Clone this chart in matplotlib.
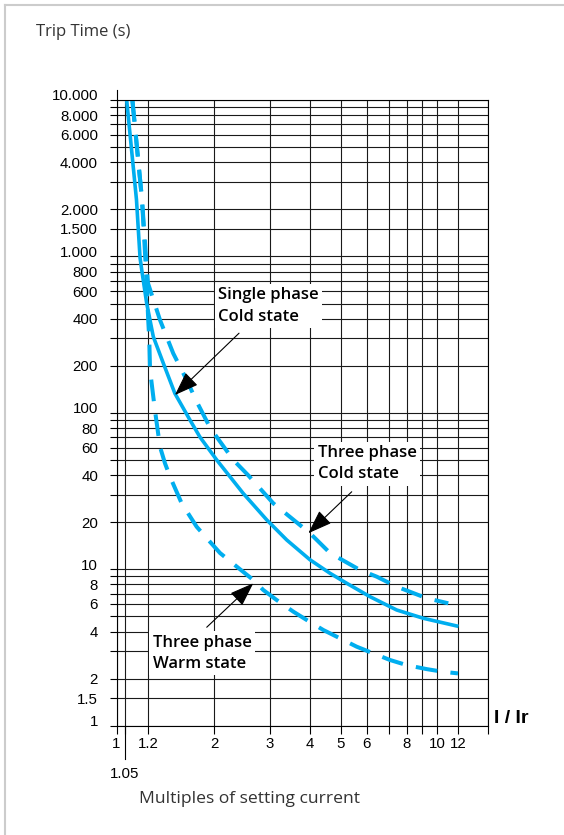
import numpy as np
import matplotlib
matplotlib.use('Agg')
import matplotlib.pyplot as plt
from matplotlib.lines import Line2D
from matplotlib.ticker import NullLocator
from matplotlib.transforms import ScaledTranslation

plt.rcParams['font.family'] = ['Liberation Sans', 'DejaVu Sans']

# curves (I/Ir, trip time in s)
single_cold_x = [1.063, 1.124, 1.147, 1.158, 1.191, 1.25, 1.35, 1.477, 1.659, 1.792, 2.037, 2.47, 2.933,
                 3.386, 4.0, 4.62, 5.206, 6.14, 7.43, 9.07, 11.87]
single_cold_y = [10000, 2300, 980, 820, 502, 307, 208, 133, 90, 70, 50, 30.6, 20.7,
                 15.4, 11.5, 9.43, 8.14, 6.68, 5.49, 4.86, 4.34]

three_cold_x = [1.098, 1.16, 1.191, 1.20, 1.316, 1.458, 1.618, 1.747, 1.94, 2.299, 2.56, 3.076,
                4.0, 4.62, 5.72, 6.436, 7.43, 9.29, 11.03]
three_cold_y = [10000, 2300, 861, 674, 393, 240, 162, 118, 80, 50, 40, 26.4,
                17.0, 12.7, 9.9, 8.97, 7.74, 6.53, 6.06]

three_warm_x = [1.098, 1.16, 1.19, 1.202, 1.212, 1.219, 1.266, 1.316, 1.368, 1.422, 1.556, 1.747,
                1.911, 2.087, 2.357, 2.66, 2.861, 3.151, 3.549, 3.907, 4.402, 4.963, 5.588,
                6.285, 7.07, 8.0, 9.29, 10.56, 12.0]
three_warm_y = [10000, 2300, 700, 393, 293, 188, 104, 60.8, 47.6, 39.1, 26.4, 18.7,
                15.4, 12.7, 10.4, 8.54, 7.37, 6.36, 5.36, 4.74, 4.09, 3.62, 3.20,
                2.90, 2.63, 2.44, 2.30, 2.21, 2.16]

x_grid = [1, 1.05, 1.2, 2, 3, 4, 5, 6, 7, 8, 9, 10, 12, 15]
x_labels = ['1', '', '1.2', '2', '3', '4', '5', '6', '', '8', '', '10', '12', '']

y_grid = [1, 1.5, 2, 3, 4, 5, 6, 7, 8, 9, 10, 20, 30, 40, 50, 60, 70, 80, 90,
          100, 200, 300, 400, 500, 600, 700, 800, 900, 1000, 1500, 2000, 3000,
          4000, 5000, 6000, 7000, 8000, 9000, 10000]
y_labels = ['1', '1.5', '2', '', '4', '', '6', '', '8', '', '10', '20', '', '40', '', '60', '', '80', '',
            '100', '200', '', '400', '', '600', '', '800', '', '1.000', '1.500', '2.000', '',
            '4.000', '', '6.000', '', '8.000', '', '10.000']

# the printed x axis is not a clean log scale, so calibrate it on its grid lines
scale_vals = np.log10([1, 1.05, 1.2, 2, 3, 4, 5, 6, 7, 8, 9, 10, 12, 15])
scale_pos = np.array([116.5, 124.5, 148, 214.2, 269.8, 310, 341, 366.7, 388.7, 406.7, 422.3, 437, 458, 487.7])


def fwd(x):
    x = np.clip(np.asarray(x, dtype=float), 1e-6, None)
    return np.interp(np.log10(x), scale_vals, scale_pos)


def inv(p):
    return 10 ** np.interp(np.asarray(p, dtype=float), scale_pos, scale_vals)


BLUE = '#00AEEF'

fig = plt.figure(figsize=(5.64, 8.35), dpi=100)
ax = fig.add_axes([116.5 / 564, 1 - 725.7 / 835, 371.2 / 564, 625.7 / 835])
ax.set_xscale('function', functions=(fwd, inv))
ax.set_yscale('log')
ax.set_xlim(1, 15)
ax.set_ylim(1, 10000)

ax.set_xticks(x_grid, x_labels)
ax.set_yticks(y_grid, y_labels)
ax.xaxis.set_minor_locator(NullLocator())
ax.yaxis.set_minor_locator(NullLocator())
ax.grid(True, color='#1a1a1a', lw=0.8)
ax.set_axisbelow(True)
ax.tick_params(axis='y', direction='out', length=4.7, width=0.8, pad=8.6, labelsize=10.8)
ax.tick_params(axis='x', direction='out', length=6, width=0.8, pad=2, labelsize=10.8)
for s in ax.spines.values():
    s.set_linewidth(0.8)

ax.plot(single_cold_x, single_cold_y, color=BLUE, lw=2.6)
ax.plot(three_cold_x, three_cold_y, color=BLUE, lw=2.9, dashes=(5.4, 3.3))
ax.plot(three_warm_x, three_warm_y, color=BLUE, lw=2.9, dashes=(5.4, 3.3))

box = dict(boxstyle='square,pad=0.2', fc='white', ec='none')
lbl_kw = dict(ha='left', va='center', fontsize=12, fontweight='semibold', family='Open Sans',
              linespacing=1.45, bbox=box, zorder=3)
ax.text(2.06, 482, 'Single phase\nCold state', **lbl_kw)
ax.text(4.228, 47.3, 'Three phase\nCold state', **lbl_kw)
ax.text(1.244, 2.9, 'Three phase\nWarm state', **lbl_kw)

arr = dict(arrowstyle='-|>,head_length=0.75,head_width=0.27', color='black', lw=0.8,
           mutation_scale=20, shrinkA=0, shrinkB=0)
ax.annotate('', xy=(1.477, 130), xytext=(2.397, 323), arrowprops=arr, zorder=4)
ax.annotate('', xy=(3.953, 17.0), xytext=(5.395, 31.3), arrowprops=arr, zorder=4)
ax.annotate('', xy=(2.66, 8.14), xytext=(1.888, 4.26), arrowprops=arr, zorder=4)

# y axis line pokes out above the grid
ax.add_line(Line2D([0, 0], [1, 1 + 10 / 625.7], transform=ax.transAxes, color='k', lw=0.8, clip_on=False))
# the 1.05 tick is long with its label set lower
xt = ax.get_xaxis_transform()
ax.add_line(Line2D([1.05, 1.05], [0, -33.3 / 625.7], transform=xt, color='k', lw=0.8, clip_on=False))
ax.text(1.05, -48.6 / 625.7, '1.05', transform=xt, ha='center', va='center', fontsize=10.8)

# decade labels sit a little above their lines
for lbl in ax.get_yticklabels():
    if lbl.get_text() in ('1', '10', '100', '1.000', '10.000'):
        lbl.set_transform(lbl.get_transform() + ScaledTranslation(0, 5 / 100, fig.dpi_scale_trans))

fig.text(36 / 564, 1 - 31.7 / 835, 'Trip Time (s)', ha='left', va='center', fontsize=12,
         family='Open Sans', color='#333333')
fig.text(139.3 / 564, 1 - 799.3 / 835, 'Multiples of setting current', ha='left', va='center',
         fontsize=12.6, family='Open Sans', color='#333333')
fig.text(511 / 564, 1 - 718.3 / 835, 'I / Ir', ha='center', va='center', fontsize=14,
         fontweight='bold', family=['Liberation Sans Narrow', 'Liberation Sans'])

fig.add_artist(Line2D([5 / 564, 5 / 564], [0, 1 - 5 / 835], color='#cccccc', lw=1.5))
fig.add_artist(Line2D([5 / 564, 1], [1 - 5 / 835, 1 - 5 / 835], color='#cccccc', lw=1.5))

fig.savefig('out.png', dpi=100)
